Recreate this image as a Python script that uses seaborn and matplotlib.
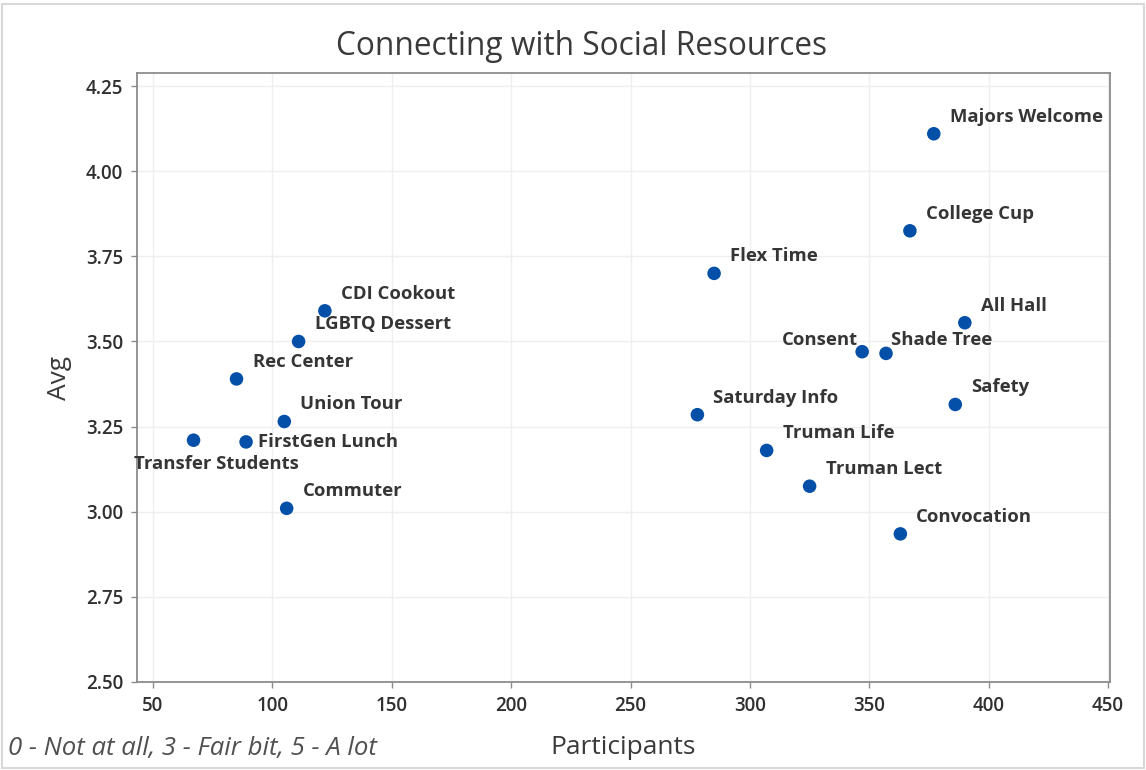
import pandas as pd
import matplotlib.pyplot as plt
import seaborn as sns

# Event data
events = ['Majors Welcome', 'College Cup', 'Flex Time', 'All Hall', 'Consent', 'Shade Tree',
          'Safety', 'Saturday Info', 'Truman Life', 'Truman Lect', 'Convocation',
          'CDI Cookout', 'LGBTQ Dessert', 'Rec Center', 'Union Tour', 'Transfer Students',
          'FirstGen Lunch', 'Commuter']
participants = [377, 367, 285, 390, 347, 357, 386, 278, 307, 325, 363,
                122, 111, 85, 105, 67, 89, 106]
avg = [4.11, 3.825, 3.70, 3.555, 3.47, 3.465, 3.315, 3.285, 3.18, 3.075, 2.935,
       3.59, 3.50, 3.39, 3.265, 3.21, 3.205, 3.01]

df = pd.DataFrame({'Event': events, 'Participants': participants, 'Avg': avg})

# label placement (pixel offsets, horizontal alignment)
default_off = (16, 17, 'left')
special_off = {
    'Consent': (-4, 12, 'right'),
    'Shade Tree': (5, 13, 'left'),
    'FirstGen Lunch': (12, 0, 'left'),
    'Transfer Students': (23, -24, 'center'),
}

sns.set_style('whitegrid')
plt.rcParams['font.family'] = ['Open Sans', 'DejaVu Sans']

fig = plt.figure(figsize=(11.46, 7.7), dpi=100)
ax = fig.add_axes([0.1195, 0.1143, 0.8491, 0.7907])

sns.scatterplot(data=df, x='Participants', y='Avg', color='#0450A8', s=95,
                edgecolor='none', ax=ax, zorder=3)

for _, row in df.iterrows():
    dx, dy, ha = special_off.get(row['Event'], default_off)
    ax.annotate(row['Event'], (row['Participants'], row['Avg']), xytext=(dx, dy),
                textcoords='offset pixels', ha=ha, va='center', fontsize=13.3,
                fontweight='bold', color='#353535', zorder=4)

ax.set_xlim(43.3, 450.8)
ax.set_ylim(2.5, 4.288)
ax.set_xticks(range(50, 451, 50))
ax.set_yticks([2.50, 2.75, 3.00, 3.25, 3.50, 3.75, 4.00, 4.25])
ax.set_yticklabels(['2.50', '2.75', '3.00', '3.25', '3.50', '3.75', '4.00', '4.25'])

ax.grid(True, color='#efefef', linewidth=1.0)
for sp in ax.spines.values():
    sp.set_color('#8c8c8c')
    sp.set_linewidth(1.3)
ax.tick_params(axis='both', which='major', length=4, width=1, color='#8c8c8c',
               labelsize=13.5, labelcolor='#303030', direction='out', bottom=True,
               left=True, pad=6)
for lbl in ax.get_xticklabels() + ax.get_yticklabels():
    lbl.set_fontweight('semibold')

fig.text(0.507, 0.939, 'Connecting with Social Resources', fontsize=22.8,
         color='#3a3a3a', ha='center', va='center')
ax.set_xlabel('Participants', fontsize=19, color='#3a3a3a', labelpad=14)
ax.set_ylabel('Avg', fontsize=19, color='#3a3a3a', labelpad=10)

fig.text(0.007, 0.028, '0 - Not at all, 3 - Fair bit, 5 - A lot', fontsize=18.5,
         style='italic', color='#505050', ha='left', va='center')

# thin light frame around the figure
fig.patches.append(plt.Rectangle((0.002, 0.003), 0.996, 0.992, transform=fig.transFigure,
                                 fill=False, edgecolor='#d8d8d8', linewidth=1.5))

fig.savefig('out.png', dpi=100)
